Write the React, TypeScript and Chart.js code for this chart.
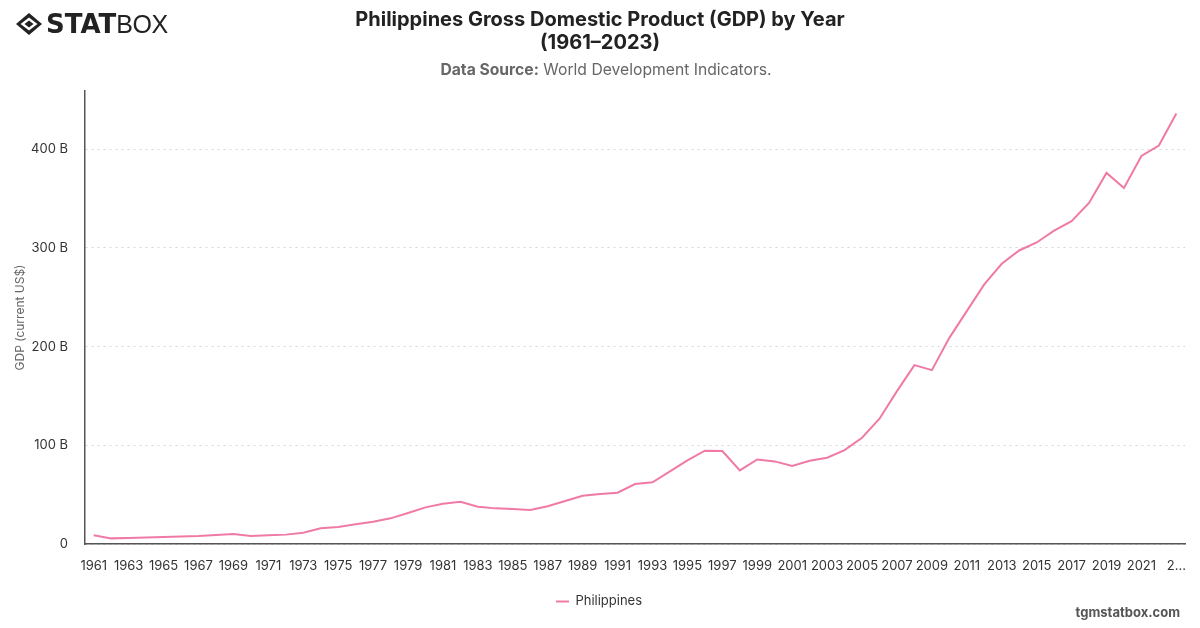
import React, { useEffect, useRef } from "react";
import { Chart, registerables } from "chart.js";

Chart.register(...registerables);

// Years shown on the category axis
const years: string[] = [];
for (let y = 1961; y <= 2023; y++) years.push(String(y));

// Philippines GDP, current US$, in billions
const gdpBillions: number[] = [
  8.8, 5.7, 6.1, 6.6, 7.1, 7.6, 8.1, 9.0, 10.1, 8.1,
  8.8, 9.5, 11.5, 15.9, 17.2, 19.9, 22.6, 26.0, 31.4, 37.1,
  40.8, 42.8, 37.8, 36.1, 35.4, 34.4, 38.2, 43.5, 48.9, 50.6,
  52.0, 60.8, 62.5, 73.6, 84.8, 94.5, 94.2, 74.6, 85.7, 83.7,
  79.0, 84.4, 87.4, 95.2, 107.7, 126.9, 154.9, 181.3, 176.2, 208.9,
  236.0, 263.0, 283.9, 297.4, 305.5, 317.6, 327.1, 345.6, 376.0, 360.8,
  393.2, 403.7, 436.1,
];

const seriesLabel = "Philippines";
const yTickValues = [0, 100, 200, 300, 400];
const yMax = 459;

const FONT = "Inter, 'Noto Sans', sans-serif";
const LINE = "rgb(240, 122, 166)";

function Logo() {
  return (
    <div style={{ position: "absolute", left: 15, top: 9, display: "flex", alignItems: "center" }}>
      <svg width="28" height="24" viewBox="0 0 28 24">
        <polygon points="14,1 27,12 14,23 1,12" fill="#222" />
        <polygon points="14,5.5 22.5,12 14,18.5 5.5,12" fill="#fff" />
        <polygon points="14,8.5 18.5,12 14,15.5 9.5,12" fill="#222" />
      </svg>
      <span style={{ fontFamily: "'DejaVu Sans', sans-serif", fontWeight: 900, fontSize: 26, color: "#222", marginLeft: 3 }}>
        STAT
      </span>
      <span style={{ fontFamily: "'Liberation Sans', sans-serif", fontWeight: 400, fontSize: 25, color: "#222", letterSpacing: -0.5 }}>
        BOX
      </span>
    </div>
  );
}

export default function App() {
  const canvasRef = useRef<HTMLCanvasElement | null>(null);

  useEffect(() => {
    document.body.style.margin = "0";
    const canvas = canvasRef.current;
    if (!canvas) return;
    const chart = new Chart(canvas, {
      type: "line",
      data: {
        labels: years,
        datasets: [
          {
            label: seriesLabel,
            data: gdpBillions,
            borderColor: LINE,
            backgroundColor: LINE,
            borderWidth: 2,
            pointRadius: 0,
            tension: 0,
          },
        ],
      },
      options: {
        animation: false,
        responsive: false,
        layout: { padding: { top: 91, left: 8, right: 10, bottom: 10 } },
        plugins: {
          title: { display: false },
          tooltip: { enabled: false },
          legend: {
            position: "bottom",
            labels: {
              usePointStyle: true,
              pointStyle: "line",
              pointStyleWidth: 13,
              boxWidth: 13,
              boxHeight: 10,
              color: "#333",
              font: { family: FONT, size: 13 },
              padding: 9,
            },
          },
        },
        scales: {
          x: {
            offset: true,
            grid: { display: false, drawTicks: false },
            border: { display: true, color: "#555", width: 1.5 },
            afterFit: (scale: any) => {
              scale.height = 42;
            },
            ticks: {
              autoSkip: false,
              maxRotation: 0,
              minRotation: 0,
              color: "#333",
              padding: 14,
              font: { family: FONT, size: 13 },
              callback: (_v: any, i: number) => {
                if (i % 2 !== 0) return null;
                if (i === years.length - 1) return "2...";
                return years[i];
              },
            },
          },
          y: {
            min: 0,
            max: yMax,
            title: {
              display: true,
              text: "GDP (current US$)",
              color: "#666",
              font: { family: FONT, size: 12 },
              padding: { top: 5, bottom: 6 },
            },
            afterBuildTicks: (axis: any) => {
              axis.ticks = yTickValues.map((v) => ({ value: v }));
            },
            afterFit: (scale: any) => {
              scale.width = 77;
            },
            grid: {
              color: "rgba(0,0,0,0.16)",
              drawTicks: false,
              lineWidth: 1,
            },
            border: { display: true, color: "#555", width: 1.5, dash: [2, 4] },
            ticks: {
              color: "#333",
              padding: 17,
              font: { family: FONT, size: 13 },
              callback: (v: any) => (v === 0 ? "0" : `${v} B`),
            },
          },
        },
      } as any,
    });
    return () => chart.destroy();
  }, []);

  return (
    <div style={{ position: "absolute", left: 0, top: 0, width: 1200, height: 628, background: "#fff", overflow: "hidden" }}>
      <canvas ref={canvasRef} width={1200} height={628} style={{ position: "absolute", left: 0, top: 0 }} />
      <Logo />
      <div style={{ position: "absolute", left: 0, top: 8, width: 1200, textAlign: "center", fontFamily: FONT, fontWeight: 700, fontSize: 20, lineHeight: "23px", color: "#222" }}>
        Philippines Gross Domestic Product (GDP) by Year
        <br />
        (1961–2023)
      </div>
      <div style={{ position: "absolute", left: 6, top: 60, width: 1200, textAlign: "center", fontFamily: FONT, fontSize: 15.7, color: "#666" }}>
        <b>Data Source:</b> World Development Indicators.
      </div>
      <div style={{ position: "absolute", right: 20, top: 604, fontFamily: FONT, fontWeight: 700, fontSize: 13, color: "#555" }}>
        tgmstatbox.com
      </div>
    </div>
  );
}
